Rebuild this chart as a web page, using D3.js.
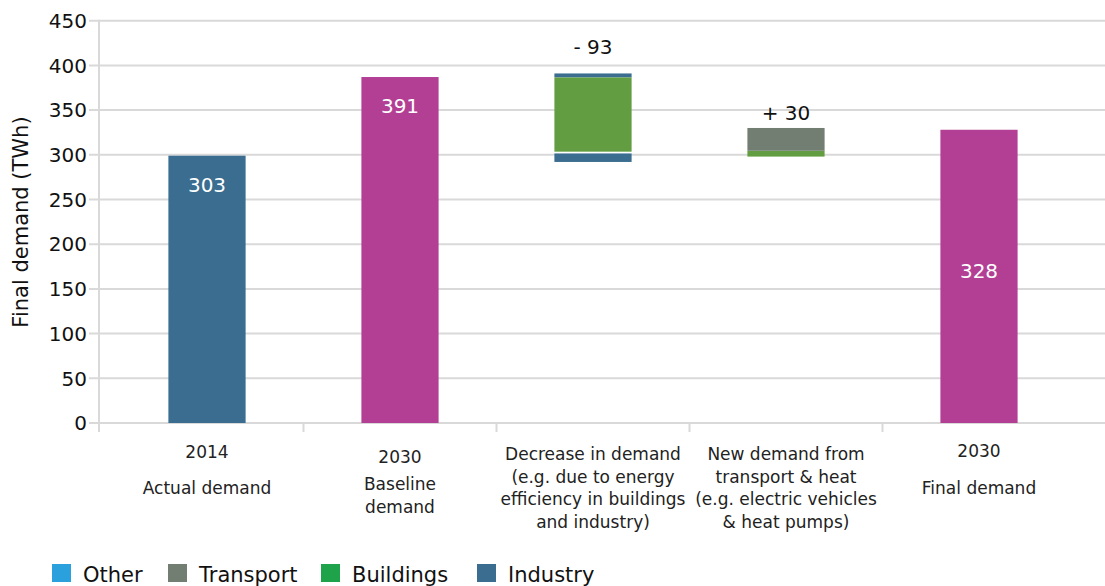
<!DOCTYPE html>
<html>
<head>
<meta charset="utf-8">
<script src="https://cdn.jsdelivr.net/npm/d3@7"></script>
<style>
  body { margin: 0; background: #fff; }
  svg { font-family: "DejaVu Sans", "Open Sans", sans-serif; }
</style>
</head>
<body>
<svg id="chart" width="1105" height="586"></svg>
<script>
// data
const categories = ["2014", "2030b", "decrease", "increase", "2030f"];
const categoryLines = [
  ["2014", "Actual demand"],
  ["2030", "Baseline", "demand"],
  ["Decrease in demand", "(e.g. due to energy", "efficiency in buildings", "and industry)"],
  ["New demand from", "transport & heat", "(e.g. electric vehicles", "& heat pumps)"],
  ["2030", "Final demand"]
];
const totalCats = ["2014", "2030b", "2030f"];
const totalHeights = [299, 387, 328];
const totalLabels = ["303", "391", "328"];
const totalColors = ["industry", "total", "total"];

// waterfall segments: [category, sector, from, to]
const segments = [
  ["decrease", "Industry", 386.5, 391],
  ["decrease", "Buildings", 303.5, 386.5],
  ["decrease", "Industry", 292, 301.5],
  ["increase", "Buildings", 298, 304.5],
  ["increase", "Transport", 304.5, 330]
];
const changeCats = ["decrease", "increase"];
const changeLabels = ["- 93", "+ 30"];
const changeTops = [391, 330];

const legendNames = ["Other", "Transport", "Buildings", "Industry"];
const yTicks = [0, 50, 100, 150, 200, 250, 300, 350, 400, 450];

const barColor = {
  Industry: "#3a6d8f", Buildings: "#629d41", Transport: "#737e73",
  industry: "#3a6d8f", total: "#b33f94"
};
const legendColor = { Other: "#2aa0dc", Transport: "#737e73", Buildings: "#1ea34a", Industry: "#3a6d8f" };

const svg = d3.select("#chart");
const axisX = 99;

const x = d3.scaleBand()
  .domain(categories)
  .range([110.5, 1075.5])
  .paddingInner(0.6)
  .paddingOuter(0.3);

const y = d3.scaleLinear().domain([0, 450]).range([423, 20.7]);

// grid
svg.append("g").selectAll("line")
  .data(yTicks)
  .join("line")
  .attr("x1", axisX - 10).attr("x2", 1105)
  .attr("y1", d => y(d)).attr("y2", d => y(d))
  .attr("stroke", "#d9d9d9").attr("stroke-width", 2);

// y axis line
svg.append("line")
  .attr("x1", axisX).attr("x2", axisX)
  .attr("y1", y(450) - 1).attr("y2", 432)
  .attr("stroke", "#d9d9d9").attr("stroke-width", 2);

// category separator ticks
const step = x.step();
svg.append("g").selectAll("line")
  .data(categories.slice(1))
  .join("line")
  .attr("x1", d => x(d) + x.bandwidth() / 2 - step / 2)
  .attr("x2", d => x(d) + x.bandwidth() / 2 - step / 2)
  .attr("y1", y(0)).attr("y2", 432)
  .attr("stroke", "#d9d9d9").attr("stroke-width", 2);

// y tick labels
svg.append("g").selectAll("text")
  .data(yTicks)
  .join("text")
  .attr("x", 87).attr("y", d => y(d))
  .attr("dy", "0.36em")
  .attr("text-anchor", "end")
  .attr("font-size", 20)
  .attr("fill", "#111")
  .text(d => d);

svg.append("text")
  .attr("transform", "translate(28,222) rotate(-90)")
  .attr("text-anchor", "middle")
  .attr("font-size", 21)
  .attr("fill", "#111")
  .text("Final demand (TWh)");

// total bars
const totals = totalCats.map((c, i) => ({ c, v: totalHeights[i], label: totalLabels[i], color: barColor[totalColors[i]], last: i === totalCats.length - 1 }));
const tg = svg.append("g");
tg.selectAll("rect")
  .data(totals)
  .join("rect")
  .attr("x", d => x(d.c))
  .attr("width", x.bandwidth())
  .attr("y", d => y(d.v))
  .attr("height", d => y(0) - y(d.v))
  .attr("fill", d => d.color);

tg.selectAll("text")
  .data(totals)
  .join("text")
  .attr("x", d => x(d.c) + x.bandwidth() / 2)
  .attr("y", d => d.last ? (y(d.v) + y(0)) / 2 - 6 : y(d.v) + 29)
  .attr("dy", "0.36em")
  .attr("text-anchor", "middle")
  .attr("font-size", 20)
  .attr("fill", "#fff")
  .text(d => d.label);

// waterfall segments
svg.append("g").selectAll("rect")
  .data(segments)
  .join("rect")
  .attr("x", d => x(d[0]))
  .attr("width", x.bandwidth())
  .attr("y", d => y(d[3]))
  .attr("height", d => y(d[2]) - y(d[3]))
  .attr("fill", d => barColor[d[1]]);

const changeOffsets = [27, 15];
svg.append("g").selectAll("text")
  .data(changeCats)
  .join("text")
  .attr("x", d => x(d) + x.bandwidth() / 2)
  .attr("y", (d, i) => y(changeTops[i]) - changeOffsets[i])
  .attr("dy", "0.36em")
  .attr("text-anchor", "middle")
  .attr("font-size", 20)
  .attr("fill", "#111")
  .text((d, i) => changeLabels[i]);

// x category labels
const lineYs = [
  [452, 488],
  [457, 484, 507],
  [454, 476.5, 499, 521.5],
  [454, 476.5, 499, 521.5],
  [451, 488]
];
const xl = svg.append("g");
categories.forEach((c, i) => {
  xl.append("g").selectAll("text")
    .data(categoryLines[i])
    .join("text")
    .attr("x", x(c) + x.bandwidth() / 2)
    .attr("y", (d, j) => lineYs[i][j])
    .attr("dy", "0.36em")
    .attr("text-anchor", "middle")
    .attr("font-size", 17)
    .attr("fill", "#222")
    .text(d => d);
});

// legend
const legendX = [52, 168, 321, 477];
const lg = svg.append("g");
legendNames.forEach((n, i) => {
  lg.append("rect")
    .attr("x", legendX[i]).attr("y", 564)
    .attr("width", 19).attr("height", 18)
    .attr("fill", legendColor[n]);
  lg.append("text")
    .attr("x", legendX[i] + 31).attr("y", 582)
    .attr("font-size", 21)
    .attr("fill", "#111")
    .text(n);
});
</script>
</body>
</html>
